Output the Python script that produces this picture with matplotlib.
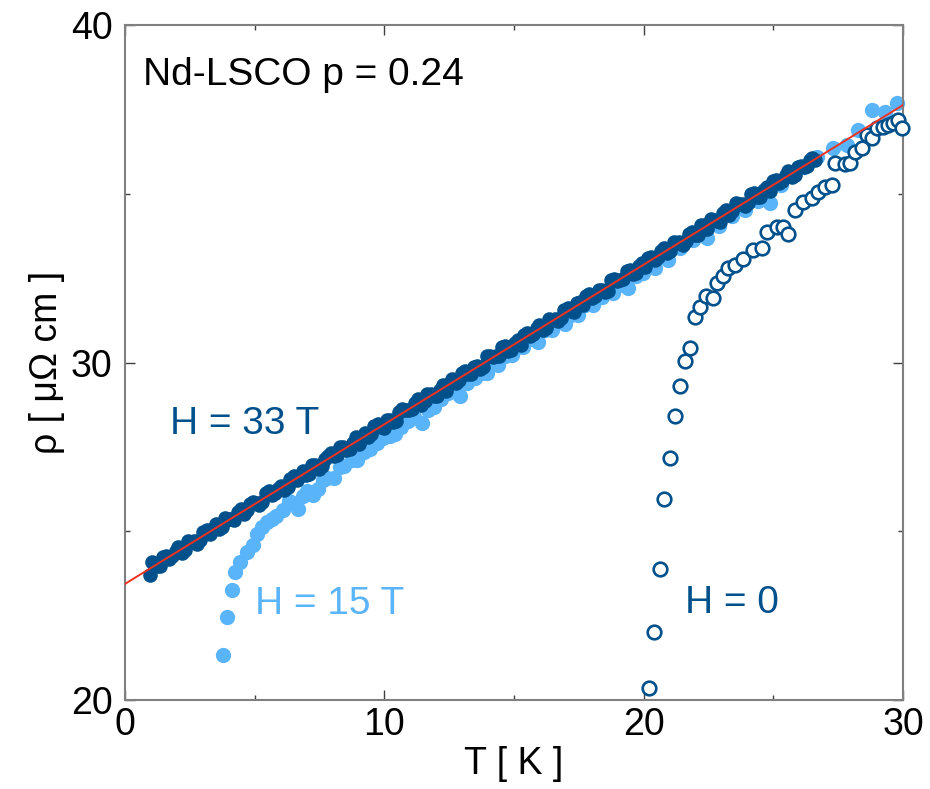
import matplotlib
matplotlib.use("Agg")
import matplotlib.pyplot as plt
from matplotlib.ticker import MultipleLocator

plt.rcParams["font.family"] = ["Liberation Sans", "DejaVu Sans"]

DARK = "#00508c"
LIGHT = "#5ab4fa"
RED = "#f0321e"

# H = 33 T (dense filled points, two interleaved sweeps)
t_33 = [0.95, 1.05, 1.22, 1.47, 1.70, 1.95, 2.18, 2.42, 2.66, 2.90,
        3.15, 3.38, 3.62, 3.87, 4.10, 4.35, 4.58, 4.82, 5.06, 5.30,
        5.55, 5.78, 6.02, 6.27, 6.50, 6.75, 6.98, 7.22, 7.47, 7.70,
        7.95, 8.18, 8.42, 8.67, 8.90, 9.15, 9.38, 9.62, 9.87, 10.10,
        10.35, 10.58, 10.82, 11.07, 11.30, 11.55, 11.78, 12.02, 12.27, 12.50,
        12.75, 12.98, 13.22, 13.47, 13.70, 13.95, 14.18, 14.42, 14.67, 14.90,
        15.15, 15.38, 15.62, 15.87, 16.10, 16.35, 16.58, 16.82, 17.07, 17.30,
        17.55, 17.78, 18.02, 18.27, 18.50, 18.75, 18.98, 19.22, 19.47, 19.70,
        19.95, 20.18, 20.42, 20.67, 20.90, 21.15, 21.38, 21.62, 21.87, 22.10,
        22.35, 22.58, 22.82, 23.07, 23.30, 23.55, 23.78, 24.02, 24.27, 24.50,
        24.75, 24.98, 25.22, 25.47, 25.70, 25.95, 26.18, 26.42, 26.60,
        1.12, 1.35, 1.58, 1.82, 2.06, 2.30, 2.54, 2.78, 3.02, 3.26,
        3.50, 3.74, 3.98, 4.22, 4.46, 4.70, 4.94, 5.18, 5.42, 5.66,
        5.90, 6.14, 6.38, 6.62, 6.86, 7.10, 7.34, 7.58, 7.82, 8.06,
        8.30, 8.54, 8.78, 9.02, 9.26, 9.50, 9.74, 9.98, 10.22, 10.46,
        10.70, 10.94, 11.18, 11.42, 11.66, 11.90, 12.14, 12.38, 12.62, 12.86,
        13.10, 13.34, 13.58, 13.82, 14.06, 14.30, 14.54, 14.78, 15.02, 15.26,
        15.50, 15.74, 15.98, 16.22, 16.46, 16.70, 16.94, 17.18, 17.42, 17.66,
        17.90, 18.14, 18.38, 18.62, 18.86, 19.10, 19.34, 19.58, 19.82, 20.06,
        20.30, 20.54, 20.78, 21.02, 21.26, 21.50, 21.74, 21.98, 22.22, 22.46,
        22.70, 22.94, 23.18, 23.42, 23.66, 23.90, 24.14, 24.38, 24.62, 24.86,
        25.10, 25.34, 25.58, 25.82, 26.06, 26.30, 26.50]
rho_33 = [23.69, 24.09, 23.97, 24.24, 24.18, 24.41, 24.37, 24.70, 24.70, 24.73,
          25.03, 25.08, 25.06, 25.40, 25.35, 25.57, 25.50, 25.81, 25.85, 25.87,
          26.19, 26.13, 26.35, 26.31, 26.65, 26.64, 26.67, 26.96, 26.85, 27.13,
          27.31, 27.26, 27.50, 27.45, 27.80, 27.77, 27.80, 28.11, 28.08, 28.29,
          28.24, 28.54, 28.59, 28.61, 28.91, 28.85, 29.07, 29.02, 29.33, 29.37,
          29.39, 29.70, 29.65, 29.86, 29.82, 30.18, 30.15, 30.19, 30.48, 30.37,
          30.67, 30.82, 30.78, 31.03, 30.97, 31.30, 31.29, 31.32, 31.61, 31.51,
          31.79, 31.97, 31.92, 32.15, 32.09, 32.45, 32.42, 32.46, 32.75, 32.64,
          32.94, 33.10, 33.05, 33.30, 33.24, 33.57, 33.56, 33.59, 33.88, 33.78,
          34.06, 34.24, 34.19, 34.42, 34.36, 34.72, 34.69, 34.73, 35.02, 34.91,
          35.21, 35.37, 35.32, 35.57, 35.51, 35.78, 35.80, 35.99, 36.00,
          24.02, 23.96, 24.28, 24.28, 24.54, 24.45, 24.67, 24.62, 24.97, 24.93,
          25.22, 25.12, 25.36, 25.32, 25.66, 25.63, 25.86, 25.79, 26.13, 26.06,
          26.25, 26.21, 26.56, 26.53, 26.80, 26.71, 26.96, 26.92, 27.23, 27.23,
          27.50, 27.40, 27.62, 27.58, 27.92, 27.88, 28.17, 28.07, 28.31, 28.27,
          28.61, 28.58, 28.81, 28.74, 29.08, 29.01, 29.20, 29.17, 29.51, 29.48,
          29.76, 29.66, 29.91, 29.87, 30.18, 30.18, 30.45, 30.35, 30.57, 30.53,
          30.87, 30.84, 31.12, 31.02, 31.27, 31.22, 31.56, 31.54, 31.76, 31.69,
          32.04, 31.96, 32.15, 32.12, 32.46, 32.43, 32.71, 32.61, 32.86, 32.82,
          33.13, 33.13, 33.40, 33.30, 33.53, 33.48, 33.82, 33.79, 34.07, 33.97,
          34.22, 34.17, 34.51, 34.49, 34.71, 34.64, 34.99, 34.91, 35.11, 35.07,
          35.41, 35.39, 35.66, 35.56, 35.82, 35.82, 36.05]

# H = 15 T
t_15 = [3.77, 3.94, 4.11, 4.24, 4.43, 4.70, 4.92, 5.10, 5.28, 5.46,
        5.65, 5.82, 6.10, 6.32, 6.49, 6.66, 6.85, 7.02, 7.26, 7.45,
        7.62, 7.80, 8.05, 8.28, 8.45, 8.75, 8.95, 9.20, 9.45, 9.70,
        9.96, 10.20, 10.41, 10.65, 10.90, 11.15, 11.44, 11.70, 11.90, 12.20,
        12.47, 12.70, 12.92, 13.20, 13.50, 13.75, 13.95, 14.20, 14.40, 14.65,
        14.91, 15.15, 15.36, 15.65, 15.94, 16.20, 16.45, 16.70, 16.97, 17.20,
        17.48, 17.75, 18.06, 18.40, 18.83, 19.10, 19.41, 19.70, 19.99, 20.44,
        20.95, 21.40, 21.90, 22.43, 22.90, 23.40, 23.90, 24.40, 24.87, 25.30,
        25.80, 26.20, 26.67, 27.31, 27.83, 28.28, 28.79, 29.31, 29.76]
rho_15 = [21.33, 22.47, 23.26, 23.80, 24.08, 24.40, 24.60, 24.92, 25.12, 25.26,
          25.35, 25.45, 25.63, 25.90, 25.83, 25.66, 26.05, 26.20, 26.08, 26.25,
          26.52, 26.57, 26.58, 26.90, 26.92, 27.10, 27.12, 27.35, 27.45, 27.62,
          27.75, 27.82, 27.88, 28.10, 28.28, 28.38, 28.22, 28.58, 28.69, 28.92,
          29.09, 29.20, 29.02, 29.40, 29.53, 29.70, 29.68, 29.95, 29.93, 30.20,
          30.22, 30.45, 30.47, 30.70, 30.62, 30.95, 30.96, 31.20, 31.13, 31.40,
          31.41, 31.70, 31.70, 31.95, 32.05, 32.30, 32.20, 32.55, 32.64, 32.79,
          33.04, 33.40, 33.62, 33.68, 34.05, 34.35, 34.52, 34.80, 34.72, 35.25,
          35.55, 35.78, 36.10, 36.35, 36.44, 36.89, 37.48, 37.43, 37.68]

# H = 0 (open circles)
t_0 = [20.22, 20.41, 20.61, 20.80, 21.02, 21.21, 21.40, 21.59, 21.79, 21.98,
       22.17, 22.40, 22.69, 22.81, 23.07, 23.26, 23.52, 23.84, 24.23, 24.55,
       24.74, 25.13, 25.39, 25.58, 25.84, 26.16, 26.48, 26.73, 26.99, 27.25,
       27.38, 27.76, 27.96, 28.15, 28.41, 28.60, 28.79, 28.98, 29.24, 29.43,
       29.63, 29.82, 29.95]
rho_0 = [20.36, 22.02, 23.87, 25.95, 27.18, 28.41, 29.30, 30.04, 30.44, 31.36,
         31.64, 31.97, 31.90, 32.35, 32.56, 32.79, 32.89, 33.06, 33.33, 33.38,
         33.88, 34.02, 34.02, 33.80, 34.52, 34.76, 34.86, 35.06, 35.21, 35.26,
         35.90, 35.88, 35.90, 36.25, 36.35, 36.74, 36.64, 36.94, 36.99, 37.04,
         37.09, 37.19, 36.94]

# linear fit to the 33 T data
fit_t = [0.0, 30.0]
fit_rho = [23.44, 37.63]

fig = plt.figure(figsize=(9.3, 7.89), dpi=100)
ax = fig.add_axes([0.1344, 0.1128, 0.8366, 0.8555])

ax.plot(t_15, rho_15, "o", color=LIGHT, ms=11, mec="none", zorder=2, clip_on=False)
ax.plot(t_33, rho_33, "o", color=DARK, ms=10.5, mec="none", zorder=3)
ax.plot(t_0, rho_0, "o", mfc="white", mec=DARK, ms=9.8, mew=1.9, zorder=4, clip_on=False)
ax.plot(fit_t, fit_rho, "-", color=RED, lw=1.4, zorder=5)

ax.set_xlim(0, 30)
ax.set_ylim(20, 40)
ax.xaxis.set_major_locator(MultipleLocator(10))
ax.xaxis.set_minor_locator(MultipleLocator(5))
ax.yaxis.set_major_locator(MultipleLocator(10))
ax.yaxis.set_minor_locator(MultipleLocator(5))
ax.tick_params(which="both", direction="in", top=True, right=True,
               color="#404040", width=1.0, labelsize=27)
ax.tick_params(which="major", length=7.2)
ax.tick_params(which="minor", length=3.6)
ax.tick_params(axis="x", pad=5)
ax.tick_params(axis="y", pad=9)
for spine in ax.spines.values():
    spine.set_color("#808080")
    spine.set_linewidth(1.5)

ax.set_xlabel("T [ K ]", fontsize=27, labelpad=2)
ax.set_ylabel("ρ [ μΩ cm ]", fontsize=27, labelpad=4)

ax.text(0.023, 0.911, "Nd-LSCO p = 0.24", transform=ax.transAxes,
        fontsize=28, color="black", va="baseline", ha="left")
ax.text(0.058, 0.394, "H = 33 T", transform=ax.transAxes,
        fontsize=28, color=DARK, va="baseline", ha="left")
ax.text(0.167, 0.127, "H = 15 T", transform=ax.transAxes,
        fontsize=28, color=LIGHT, va="baseline", ha="left")
ax.text(0.720, 0.129, "H = 0", transform=ax.transAxes,
        fontsize=28, color=DARK, va="baseline", ha="left")

fig.savefig("out.png", dpi=100)
